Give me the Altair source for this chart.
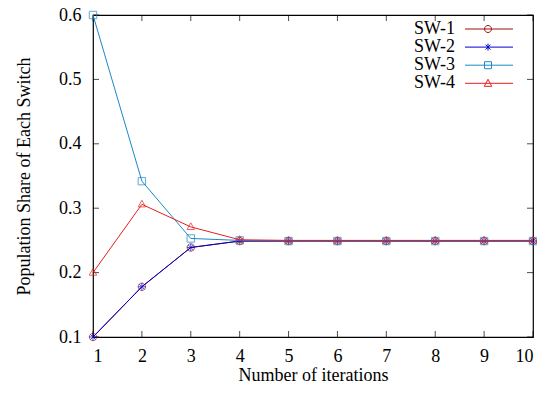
import altair as alt
import pandas as pd

iterations = [1, 2, 3, 4, 5, 6, 7, 8, 9, 10]
sw1 = [0.1, 0.178, 0.239, 0.249, 0.249, 0.249, 0.249, 0.249, 0.249, 0.249]
sw2 = [0.1, 0.178, 0.239, 0.249, 0.249, 0.249, 0.249, 0.249, 0.249, 0.249]
sw3 = [0.6, 0.342, 0.253, 0.250, 0.249, 0.249, 0.249, 0.249, 0.249, 0.249]
sw4 = [0.2, 0.306, 0.271, 0.251, 0.250, 0.250, 0.250, 0.250, 0.250, 0.250]
series_names = ["SW-1", "SW-2", "SW-3", "SW-4"]
series_colors = ["#a00d0d", "#0000cc", "#1a88c9", "#e4201c"]
x_ticks = [1, 2, 3, 4, 5, 6, 7, 8, 9, 10]
y_ticks = [0.1, 0.2, 0.3, 0.4, 0.5, 0.6]

FONT = "Liberation Serif"

rows = []
for name, vals in zip(series_names, [sw1, sw2, sw3, sw4]):
    for i, v in zip(iterations, vals):
        rows.append({"iter": i, "share": v, "series": name})
df = pd.DataFrame(rows)

asterisk = "M-1,0H1M0,-1V1M-0.72,-0.72L0.72,0.72M-0.72,0.72L0.72,-0.72"
data_shapes = [
    "M-1,0A1,1 0 1,1 1,0A1,1 0 1,1 -1,0Z",
    asterisk,
    "M-1,-1H1V1H-1Z",
    "M0,-1.1L1,0.7H-1Z",
]
# legend samples: line + marker, drawn to the right of the nominal symbol box
# (unit = 5px since sqrt(symbolSize)/2 = 5)
legend_shapes = [
    "M3.8,0H13.4M7.7,0A0.7,0.7 0 1,1 9.1,0A0.7,0.7 0 1,1 7.7,0Z",
    "M3.8,0H13.4M8.4,-0.7V0.7M7.9,-0.5L8.9,0.5M7.9,0.5L8.9,-0.5",
    "M3.8,0H13.4M7.7,-0.7H9.1V0.7H7.7Z",
    "M3.8,0H13.4M8.4,-0.8L9.15,0.6H7.65Z",
]

x_scale = alt.Scale(domain=[1, 10], nice=False, zero=False)
y_scale = alt.Scale(domain=[0.1, 0.6], nice=False, zero=False)
color_scale = alt.Scale(domain=series_names, range=series_colors)

base = alt.Chart(df)

x_enc = alt.X("iter:Q", scale=x_scale,
              axis=alt.Axis(values=x_ticks, title="Number of iterations", grid=False,
                            tickSize=0, domain=False, labelPadding=10, titlePadding=1,
                            format="d"))
y_enc = alt.Y("share:Q", scale=y_scale,
              axis=alt.Axis(values=y_ticks, title="Population Share of Each Switch",
                            grid=False, tickSize=0, domain=False, labelPadding=12,
                            titlePadding=25, format=".1f"))

layers = []
legend_layers = []
for k, name in enumerate(series_names):
    sub = base.transform_filter(alt.datum.series == name)
    line = sub.mark_line(strokeWidth=1, clip=False).encode(
        x=x_enc if k == 0 else alt.X("iter:Q", scale=x_scale),
        y=y_enc if k == 0 else alt.Y("share:Q", scale=y_scale),
        color=alt.Color("series:N", scale=color_scale, legend=None),
    )
    pts = sub.mark_point(filled=False, strokeWidth=1, size=55, clip=False).encode(
        x=alt.X("iter:Q", scale=x_scale),
        y=alt.Y("share:Q", scale=y_scale),
        color=alt.Color("series:N", scale=color_scale, legend=None),
        shape=alt.value(data_shapes[k]),
    )
    layers += [line, pts]

    # one legend entry per series (label left, line sample with marker right)
    leg = sub.transform_filter(alt.datum.iter == 1).mark_point(
        filled=False, opacity=0, size=100, color=series_colors[k]
    ).encode(
        x=alt.X("iter:Q", scale=x_scale),
        y=alt.Y("share:Q", scale=y_scale),
        shape=alt.Shape(
            "series:N",
            scale=alt.Scale(domain=[name], range=[legend_shapes[k]]),
            legend=alt.Legend(
                title=None, orient="none", legendX=344, legendY=5 + 18.1 * k,
                labelFont=FONT, labelFontSize=18, labelColor="black",
                labelAlign="right", labelOffset=0,
                symbolSize=100, symbolStrokeWidth=1, symbolOpacity=1,
                symbolFillColor="transparent", symbolStrokeColor=series_colors[k],
            ),
        ),
    )
    legend_layers.append(leg)

xt = pd.DataFrame({"iter": x_ticks})
yt = pd.DataFrame({"share": y_ticks})
TL = 6
bottom_ticks = alt.Chart(xt).mark_tick(orient="vertical", size=TL, thickness=1, color="black",
                                       yOffset=-TL / 2).encode(
    x=alt.X("iter:Q", scale=x_scale), y=alt.value(322))
top_ticks = alt.Chart(xt).mark_tick(orient="vertical", size=TL, thickness=1, color="black",
                                    yOffset=TL / 2).encode(
    x=alt.X("iter:Q", scale=x_scale), y=alt.value(0))
left_ticks = alt.Chart(yt).mark_tick(orient="horizontal", size=TL, thickness=1, color="black",
                                     xOffset=TL / 2).encode(
    y=alt.Y("share:Q", scale=y_scale), x=alt.value(0))
right_ticks = alt.Chart(yt).mark_tick(orient="horizontal", size=TL, thickness=1, color="black",
                                      xOffset=-TL / 2).encode(
    y=alt.Y("share:Q", scale=y_scale), x=alt.value(440))

chart = alt.layer(
    bottom_ticks, top_ticks, left_ticks, right_ticks, *layers, *legend_layers
).resolve_scale(shape="independent").properties(
    width=440, height=322,
    autosize=alt.AutoSizeParams(type="none"),
    padding={"left": 85, "top": 7, "right": 4, "bottom": 48},
).configure_view(
    stroke="black", strokeWidth=1.2
).configure_axis(
    labelFont=FONT, titleFont=FONT, labelFontSize=18, titleFontSize=18,
    labelColor="black", titleColor="black", titleFontWeight="normal",
)

chart.save("out.html", embed_options={"renderer": "svg", "actions": False})
